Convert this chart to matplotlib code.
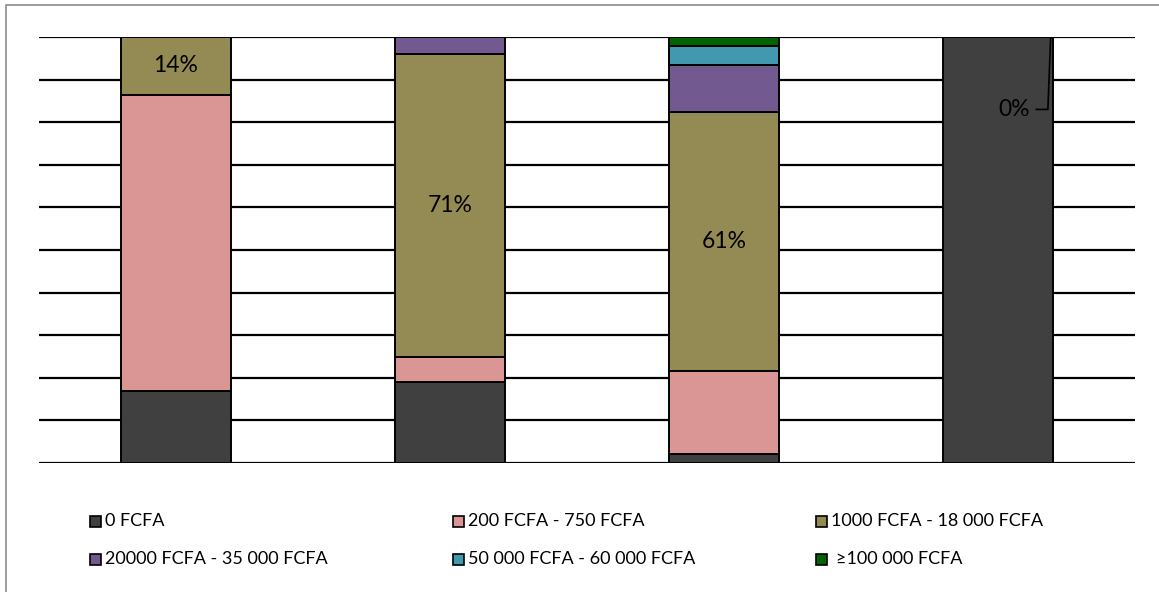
import matplotlib.pyplot as plt
import numpy as np
from matplotlib.patches import Rectangle

plt.rcParams['font.family'] = ['Lato', 'DejaVu Sans']

# categories (no labels shown on the chart)
groupes = ["G1", "G2", "G3", "G4"]

series = [
    "0 FCFA",
    "200 FCFA - 750 FCFA",
    "1000 FCFA - 18 000 FCFA",
    "20000 FCFA - 35 000 FCFA",
    "50 000 FCFA - 60 000 FCFA",
    "\u2265100 000 FCFA",
]

# percentages per group, one list per series
v_0 = [17, 19, 2, 100]
v_200 = [69.5, 6, 19.5, 0]
v_1000 = [13.5, 71, 61, 0]
v_20000 = [0, 4, 11, 0]
v_50000 = [0, 0, 4.5, 0]
v_100000 = [0, 0, 2, 0]

couleurs = ["#404040", "#D99694", "#948A54", "#72598F", "#4198AF", "#006400"]

valeurs = [v_0, v_200, v_1000, v_20000, v_50000, v_100000]

fig = plt.figure(figsize=(11.59, 5.92), dpi=100)
ax = fig.add_axes([39 / 1159, 1 - 463 / 592, 1096 / 1159, 426 / 592])

x = np.arange(len(groupes))
largeur = 0.4

# grille
for g in range(0, 101, 10):
    ax.axhline(g, color="black", linewidth=1.6, zorder=1)

bas = np.zeros(len(groupes))
for nom, vals, c in zip(series, valeurs, couleurs):
    vals = np.array(vals, dtype=float)
    ax.bar(x, vals, largeur, bottom=bas, color=c, edgecolor="black",
           linewidth=1.4, zorder=2, label=nom)
    bas = bas + vals

# etiquettes de la serie 1000 - 18 000
bas_1000 = np.array(v_0) + np.array(v_200)
for i in range(3):
    ax.text(x[i], bas_1000[i] + v_1000[i] / 2, f"{v_1000[i]:.0f}%",
            ha="center", va="center", fontsize=16.5, color="black", zorder=3)

# le 0% de la derniere barre, avec sa ligne de rappel
ax.text(x[3] + 0.115, 83, f"{v_1000[3]:.0f}%", ha="right", va="center",
        fontsize=16.5, color="black", zorder=3)
ax.plot([x[3] + 0.14, x[3] + 0.182, x[3] + 0.192], [83, 83, 99.6],
        color="black", linewidth=1.2, zorder=3)

ax.set_xlim(-0.5, 3.5)
ax.set_ylim(0, 100)
ax.set_xticks([])
ax.set_yticks([])
for s in ax.spines.values():
    s.set_visible(False)

# legende
pos_x = [90, 453, 816]
pos_y = [521, 559]
for k, (nom, c) in enumerate(zip(series, couleurs)):
    px = pos_x[k % 3]
    py = pos_y[k // 3]
    fig.patches.append(Rectangle((px / 1159, 1 - (py + 5.5) / 592), 11 / 1159, 11 / 592,
                                 transform=fig.transFigure, facecolor=c,
                                 edgecolor="black", linewidth=1.2))
    decal = 20 if k == 5 else 15
    fig.text((px + decal) / 1159, 1 - py / 592, nom, ha="left", va="center",
             fontsize=13, color="black")

# cadre du graphique
fig.patches.append(Rectangle((6 / 1159, -0.05), 1.2, 1 - 5 / 592 + 0.05,
                             transform=fig.transFigure, fill=False,
                             edgecolor="#8c8c8c", linewidth=1.2))

fig.savefig("out.png", dpi=100)
